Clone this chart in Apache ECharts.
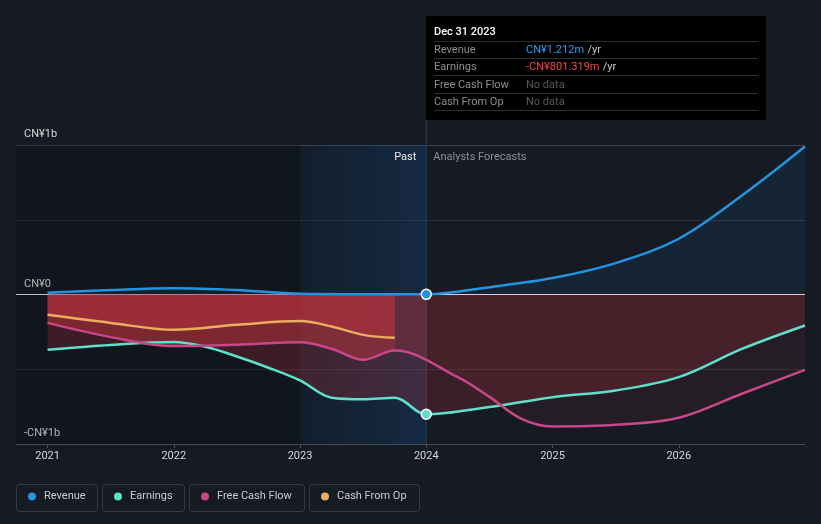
<!DOCTYPE html>
<html><head><meta charset="utf-8">
<script src="https://cdn.jsdelivr.net/npm/echarts@6/dist/echarts.min.js"></script>
<style>html,body{margin:0;padding:0;background:#151a23;}#c{width:821px;height:524px;}</style>
</head><body><div id="c"></div>
<script>
const FONT = 'Roboto, "Noto Sans", sans-serif';
const X_MIN = 2020.75, X_MAX = 2027;
const HOVER_X = 2024;
const hoverLabel = 'Dec 31 2023';
const yearTicks = [2021, 2022, 2023, 2024, 2025, 2026];
const yLabelTicks = [-1, 0, 1];
const seriesNames = ['Revenue', 'Earnings', 'Free Cash Flow', 'Cash From Op'];

// values in CN¥ billions
const revenueX = [2021, 2021.5, 2022, 2022.5, 2023, 2023.5, 2024, 2024.5, 2025, 2025.5, 2026, 2026.5, 2027];
const revenueY = [0.012, 0.03, 0.042, 0.03, 0.005, 0.002, 0.001212, 0.049, 0.11, 0.21, 0.373, 0.662, 0.99];

const earningsX = [2021, 2021.5, 2022, 2022.25, 2022.5, 2022.75, 2023, 2023.25, 2023.5, 2023.75, 2024, 2024.5, 2025, 2025.5, 2026, 2026.5, 2027];
const earningsY = [-0.37, -0.337, -0.318, -0.35, -0.415, -0.49, -0.575, -0.69, -0.70, -0.69, -0.801319, -0.753, -0.687, -0.642, -0.553, -0.364, -0.207];

const fcfX = [2021, 2021.5, 2022, 2022.5, 2023, 2023.25, 2023.5, 2023.75, 2024.25, 2024.5, 2024.75, 2025, 2025.5, 2026, 2026.5, 2027];
const fcfY = [-0.19, -0.285, -0.345, -0.336, -0.32, -0.363, -0.437, -0.375, -0.553, -0.685, -0.83, -0.883, -0.872, -0.825, -0.664, -0.504];

const cfoX = [2021, 2021.5, 2022, 2022.5, 2023, 2023.25, 2023.5, 2023.75];
const cfoY = [-0.136, -0.19, -0.236, -0.203, -0.178, -0.214, -0.27, -0.29];

const COLORS = ['#2394e0', '#5fe0cb', '#c8478a', '#e9ae5e'];
const seriesX = [revenueX, earningsX, fcfX, cfoX];
const seriesY = [revenueY, earningsY, fcfY, cfoY];

function fmtMoney(v) {
  const a = Math.abs(v);
  const s = a >= 1 ? a.toFixed(3) + 'b' : (a * 1000).toFixed(3) + 'm';
  return (v < 0 ? '-' : '') + 'CN¥' + s;
}
function makeData(xs, ys, color) {
  return xs.map((x, i) => x === HOVER_X
    ? { value: [x, ys[i]], symbol: 'circle', symbolSize: 10, itemStyle: { color: color, borderColor: '#ffffff', borderWidth: 1.5 } }
    : [x, ys[i]]);
}

const chart = echarts.init(document.getElementById('c'));

function redGrad(stops) {
  return new echarts.graphic.LinearGradient(0, 0, 821, 0, stops, true);
}

function buildSeries(pxA, pxB) {
  const R = '200,52,62';
  const areaAlpha = [
    null,
    [[0, 0.24], [pxB, 0.24], [pxB, 0.2], [1, 0.2]],
    [[0, 0.46], [pxA, 0.46], [pxA, 0.22], [pxB, 0.22], [pxB, 0.09], [1, 0.09]],
    [[0, 0.39], [1, 0.39]]
  ];
  const out = [{
    type: 'line', name: '_bg', z: 1, silent: true, symbol: 'none',
    data: [[X_MIN, 0], [X_MAX, 0]], lineStyle: { opacity: 0 },
    markArea: {
      silent: true,
      data: [
        [{ xAxis: X_MIN, itemStyle: { color: 'rgba(0,0,0,0.17)' } }, { xAxis: 2023 }],
        [{ xAxis: 2023, itemStyle: { color: new echarts.graphic.LinearGradient(0, 0, 1, 0, [
          { offset: 0, color: 'rgba(10,70,130,0.10)' }, { offset: 1, color: 'rgba(20,90,160,0.26)' }]) } }, { xAxis: 2024 }]
      ]
    }
  }];
  const common = { smooth: 0.35 };
  seriesNames.forEach((n, i) => {
    const pts = seriesX[i].map((x, k) => [x, seriesY[i][k]]);
    let areaColor;
    if (i === 0) areaColor = 'rgba(33,150,243,0.09)';
    else areaColor = redGrad(areaAlpha[i].map(s => ({ offset: s[0], color: 'rgba(' + R + ',' + s[1] + ')' })));
    out.push(Object.assign({
      type: 'line', name: n, z: 2, silent: true, symbol: 'none',
      color: COLORS[i], data: pts, lineStyle: { width: 0 },
      areaStyle: { color: areaColor, opacity: 1 }
    }, common));
  });
  seriesNames.forEach((n, i) => {
    out.push(Object.assign({
      type: 'line', name: n, z: 3, symbol: 'none', showSymbol: true,
      color: COLORS[i], data: makeData(seriesX[i], seriesY[i], COLORS[i]),
      lineStyle: { width: 2.5, color: COLORS[i] }
    }, common));
  });
  return out;
}

const legendIconLeft = [28, 114, 201, 321];
const legendBoxes = [[16, 81], [102, 82], [189, 115], [309, 110]];

const option = {
  backgroundColor: '#151a23',
  animation: false,
  textStyle: { fontFamily: FONT },
  grid: { left: 16, right: 16, top: 145, bottom: 80 },
  xAxis: {
    type: 'value', min: X_MIN, max: X_MAX,
    axisLine: { show: true, onZero: false, lineStyle: { color: '#454b55', width: 1 } },
    axisTick: { show: true, length: 4, customValues: yearTicks, lineStyle: { color: '#454b55' } },
    axisLabel: { customValues: yearTicks, color: '#d8d8d8', fontSize: 11, margin: 7, fontFamily: FONT, formatter: v => String(v) },
    splitLine: { show: false }
  },
  yAxis: {
    type: 'value', min: -1, max: 1, interval: 0.5,
    axisLine: { show: false }, axisTick: { show: false },
    axisLabel: {
      inside: true, customValues: yLabelTicks, margin: 8, color: '#d8d8d8', fontSize: 11, fontFamily: FONT,
      verticalAlign: 'bottom', padding: [0, 0, 5, 0],
      formatter: v => v === 0 ? 'CN¥0' : (v > 0 ? 'CN¥' + v + 'b' : '-CN¥' + (-v) + 'b')
    },
    splitLine: { show: true, lineStyle: { color: ['#454b55', '#2b3039', '#e8e8e8', '#2b3039', '#3d424b'], width: 1 } }
  },
  legend: seriesNames.map((n, i) => ({
    data: [n], left: legendIconLeft[i], top: 491, icon: 'circle', itemWidth: 8, itemHeight: 8, padding: 0,
    textStyle: { color: '#c8ccd2', fontSize: 11, fontFamily: FONT, padding: [0, 0, 0, 3] }
  })),
  series: buildSeries(0.48, 0.52)
};
chart.setOption(option);

const pxA = chart.convertToPixel({ gridIndex: 0 }, [2023.75, 0])[0];
const pxB = chart.convertToPixel({ gridIndex: 0 }, [HOVER_X, 0])[0];
const yBottom = chart.convertToPixel({ gridIndex: 0 }, [HOVER_X, -1])[1];
const yTop1 = chart.convertToPixel({ gridIndex: 0 }, [HOVER_X, 1])[1];

const tipRows = seriesNames.map((n, i) => {
  const k = seriesX[i].indexOf(HOVER_X);
  return { name: n, value: k >= 0 ? fmtMoney(seriesY[i][k]) : null, color: seriesY[i][k] < 0 ? '#f5474a' : '#2d9cf0' };
});
const TX = 426, TY = 16, TW = 340, TH = 104;
const tipEls = [{ type: 'rect', z: 100, shape: { x: TX, y: TY, width: TW, height: TH }, style: { fill: '#000000' } },
  { type: 'text', z: 101, x: TX + 8, y: TY + 16, style: { text: hoverLabel, fill: '#ffffff', font: '500 11px ' + FONT, verticalAlign: 'middle' } }];
const sepY = [41.5, 58.5, 75.5, 93.5, 110.5];
sepY.forEach(y => tipEls.push({ type: 'line', z: 101, shape: { x1: TX + 8, y1: y, x2: TX + TW - 8, y2: y }, style: { stroke: '#2e2e2e', lineWidth: 1 } }));
const rowY = [50.5, 67.5, 85, 102];
tipRows.forEach((r, i) => {
  tipEls.push({ type: 'text', z: 101, x: TX + 8, y: rowY[i], style: { text: r.name, fill: '#8f8f8f', font: '11px ' + FONT, verticalAlign: 'middle' } });
  tipEls.push({ type: 'text', z: 101, x: TX + 100, y: rowY[i], style: r.value
    ? { text: '{v|' + r.value + '} {u|/yr}', rich: { v: { fill: r.color, font: '11px ' + FONT }, u: { fill: '#c8c8c8', font: '11px ' + FONT } }, verticalAlign: 'middle' }
    : { text: 'No data', fill: '#5a5a5a', font: '11px ' + FONT, verticalAlign: 'middle' } });
});

const graphics = [
  { type: 'line', z: 1.5, silent: true, shape: { x1: pxB, y1: TY + TH, x2: pxB, y2: yBottom }, style: { stroke: '#2a3d52', lineWidth: 1 } },
  { type: 'text', z: 5, x: pxB - 10, y: yTop1 + 12, style: { text: 'Past', fill: '#e8e8e8', font: '11px ' + FONT, align: 'right', verticalAlign: 'middle' } },
  { type: 'text', z: 5, x: pxB + 7, y: yTop1 + 12, style: { text: 'Analysts Forecasts', fill: '#8b9099', font: '11px ' + FONT, align: 'left', verticalAlign: 'middle' } }
].concat(legendBoxes.map(b => ({ type: 'rect', z: 0, silent: true, shape: { x: b[0] + 0.5, y: 484.5, width: b[1], height: 27, r: 3 }, style: { fill: 'rgba(0,0,0,0)', stroke: '#353a44', lineWidth: 1 } })))
  .concat(tipEls);

chart.setOption({ series: buildSeries(pxA / 821, pxB / 821), graphic: graphics });
</script></body></html>
